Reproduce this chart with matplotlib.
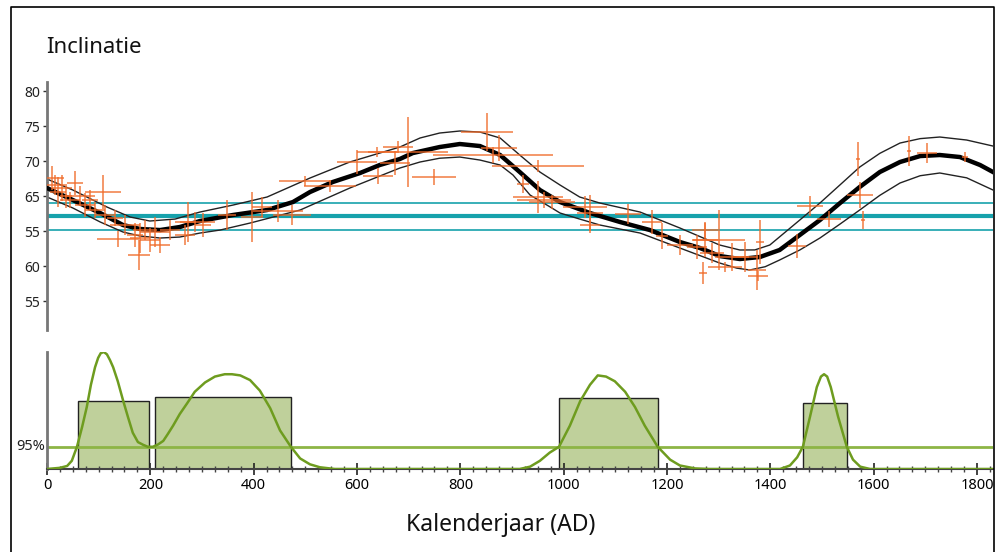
import numpy as np
import matplotlib.pyplot as plt
from matplotlib.lines import Line2D

plt.rcParams['font.family'] = ['Noto Sans', 'DejaVu Sans']

# ---- top panel: inclination curve (year, degrees) ----
curve_year = [0, 50, 103, 147, 180, 219, 257, 296, 360, 426, 476, 509, 553, 606, 644, 683,
              708, 760, 799, 838, 877, 915, 954, 993, 1051, 1109, 1167, 1225, 1264, 1302,
              1341, 1380, 1418, 1457, 1496, 1535, 1573, 1612, 1651, 1690, 1728, 1767, 1806, 1831]
curve_mid = [66.14, 64.43, 62.57, 60.86, 60.29, 60.14, 60.57, 61.43, 62.29, 63.0, 64.14, 65.57,
             67.0, 68.29, 69.43, 70.29, 71.14, 72.0, 72.43, 72.14, 70.86, 68.43, 65.86, 64.14,
             62.57, 61.29, 60.14, 58.43, 57.57, 56.43, 56.0, 56.29, 57.29, 59.43, 61.57, 64.0,
             66.29, 68.43, 69.86, 70.71, 70.86, 70.57, 69.43, 68.43]

upper_year = [0, 50, 116, 161, 199, 248, 296, 360, 426, 509, 586, 683, 722, 760, 799, 838, 877,
              915, 954, 993, 1031, 1070, 1148, 1225, 1302, 1341, 1370, 1399, 1457, 1496, 1535,
              1573, 1612, 1651, 1690, 1728, 1780, 1831]
upper_val = [67.43, 65.86, 63.43, 62.0, 61.43, 61.71, 62.71, 63.71, 64.86, 67.57, 69.86, 72.0,
             73.29, 74.0, 74.29, 74.14, 73.29, 70.86, 68.43, 66.57, 64.86, 64.0, 62.71, 60.43,
             58.0, 57.29, 57.3, 58.0, 61.57, 64.0, 66.6, 69.14, 71.1, 72.57, 73.2, 73.43, 73.0,
             72.14]

lower_year = [0, 50, 103, 147, 180, 219, 257, 296, 335, 393, 490, 586, 683, 722, 760, 799, 838,
              877, 902, 935, 974, 993, 1031, 1070, 1148, 1225, 1302, 1335, 1360, 1390, 1418, 1457,
              1496, 1535, 1573, 1612, 1651, 1690, 1728, 1780, 1831]
lower_val = [64.86, 63.29, 61.29, 59.86, 59.29, 59.0, 59.14, 59.71, 60.14, 61.14, 63.0, 66.14,
             69.0, 69.86, 70.4, 70.57, 70.14, 69.43, 68.0, 65.14, 63.43, 62.57, 61.71, 60.86,
             59.71, 57.57, 55.43, 54.7, 54.43, 54.9, 55.86, 57.29, 59.0, 61.0, 63.0, 65.1, 66.86,
             67.9, 68.29, 67.6, 65.86]

teal_mean = 62.14
teal_band = [64.0, 60.14]

# archaeomagnetic data points with uncertainties
pt_year = [10, 16, 21, 29, 37, 45, 54, 64, 74, 83, 93, 108, 112, 132, 151, 137, 170, 180, 190,
           178, 199, 209, 219, 238, 267, 273, 287, 302, 348, 397, 416, 447, 474, 499, 548, 600,
           641, 639, 674, 699, 749, 679, 852, 863, 875, 950, 921, 950, 962, 977, 1041, 1051,
           1051, 1125, 1171, 1190, 1225, 1258, 1274, 1274, 1270, 1287, 1301, 1312, 1326, 1351,
           1374, 1376, 1380, 1452, 1477, 1514, 1570, 1574, 1579, 1668, 1703, 1777]
pt_inc = [67.57, 66.57, 65.57, 66.14, 65.0, 64.43, 66.86, 65.0, 63.71, 64.43, 63.0, 65.57, 62.29,
          61.86, 60.86, 58.86, 59.43, 59.0, 60.14, 56.57, 58.71, 59.86, 58.0, 60.14, 59.43, 61.29,
          61.29, 60.86, 62.29, 62.0, 63.43, 62.86, 62.29, 67.14, 66.43, 69.86, 67.86, 71.29, 69.71,
          71.29, 67.71, 72.0, 74.14, 70.86, 71.86, 69.29, 66.71, 64.86, 64.43, 64.14, 63.43, 62.57,
          60.86, 62.43, 61.29, 59.29, 58.0, 57.71, 60.14, 58.71, 54.0, 56.86, 58.71, 54.86, 56.29,
          56.29, 54.43, 53.57, 58.43, 57.86, 63.57, 61.71, 70.29, 65.14, 61.57, 71.43, 71.14, 70.57]
pt_xerr = [23, 19, 15, 19, 12, 19, 15, 29, 19, 15, 19, 35, 19, 15, 29, 41, 15, 19, 23, 21, 19, 29,
           19, 19, 19, 15, 39, 15, 17, 21, 19, 48, 37, 50, 50, 39, 29, 39, 29, 77, 43, 29, 50, 116,
           35, 89, 12, 48, 52, 45, 43, 25, 19, 25, 19, 12, 25, 19, 25, 25, 8, 23, 50, 33, 33, 25,
           17, 19, 8, 17, 25, 23, 4, 25, 4, 4, 19, 6]
pt_yerr = [1.7, 1.4, 2.1, 1.9, 1.7, 1.1, 1.7, 1.4, 1.7, 1.4, 1.1, 2.4, 1.4, 1.1, 1.4, 1.1, 1.7, 2.1,
           1.4, 2.1, 1.7, 2.1, 1.1, 1.4, 1.4, 2.9, 1.4, 1.7, 2.1, 3.6, 1.4, 1.6, 1.4, 0.7, 0.9, 1.7,
           1.1, 0.7, 1.7, 5.0, 1.1, 0.9, 2.7, 1.1, 1.9, 0.9, 1.3, 2.3, 1.1, 1.0, 1.6, 2.6, 1.1, 1.4,
           1.7, 1.9, 1.4, 1.7, 1.1, 2.4, 1.6, 1.4, 4.3, 0.7, 2.0, 2.1, 2.9, 0.7, 3.1, 1.7, 1.4, 1.1,
           2.4, 1.9, 1.3, 2.1, 1.4, 0.7]

inc_ticks = [80, 75, 70, 65, 60, 55, 50]
inc_labels = ['80', '75', '70', '65', '55', '60', '55']

# ---- bottom panel: dating probability density ----
dens_year = [0, 25, 39, 48, 58, 68, 77, 85, 93, 99, 104, 110, 116, 122, 128, 137, 147, 157, 166,
             176, 186, 195, 205, 215, 225, 234, 244, 257, 271, 286, 306, 325, 344, 358, 374, 393,
             412, 432, 451, 472, 490, 509, 528, 557, 915, 935, 954, 973, 991, 1012, 1032, 1051,
             1066, 1082, 1099, 1119, 1138, 1157, 1182, 1206, 1225, 1254, 1283, 1419, 1438, 1452,
             1463, 1477, 1490, 1498, 1504, 1510, 1517, 1531, 1548, 1560, 1574, 1593, 1831]
dens_val = [0.0, 0.01, 0.026, 0.07, 0.19, 0.36, 0.53, 0.72, 0.87, 0.95, 0.99, 1.0, 0.98, 0.93,
            0.87, 0.75, 0.59, 0.44, 0.31, 0.23, 0.207, 0.19, 0.19, 0.21, 0.24, 0.30, 0.37, 0.47,
            0.56, 0.66, 0.74, 0.79, 0.81, 0.81, 0.80, 0.76, 0.67, 0.52, 0.33, 0.19, 0.09, 0.04,
            0.015, 0.0, 0.0, 0.02, 0.07, 0.14, 0.19, 0.37, 0.58, 0.72, 0.80, 0.79, 0.75, 0.66,
            0.53, 0.37, 0.19, 0.08, 0.03, 0.005, 0.0, 0.0, 0.03, 0.10, 0.19, 0.45, 0.70, 0.79,
            0.81, 0.79, 0.70, 0.45, 0.19, 0.08, 0.02, 0.0, 0.0]
level_95 = 0.19

bar_start = [60, 209, 991, 1463]
bar_end = [197, 472, 1182, 1548]
bar_height = [0.578, 0.612, 0.603, 0.56]

xmax = 1831
orange = '#f06a28'
teal = '#17a2ac'
olive = '#6e9c1f'

fig = plt.figure(figsize=(10.06, 5.52), dpi=100)
fig.add_artist(Line2D([11/1006, 11/1006, 994/1006, 994/1006], [0, 1-7/552, 1-7/552, 0],
                      color='black', lw=1.2))

ax1 = fig.add_axes([47/1006, 1-330/552, 946/1006, 248/552])
ax2 = fig.add_axes([47/1006, 1-469/552, 946/1006, 117/552])

# top
for v, w in [(teal_band[0], 1.2), (teal_mean, 3.0), (teal_band[1], 1.2)]:
    ax1.axhline(v, color=teal, lw=w, zorder=1)
ax1.plot(upper_year, upper_val, color='#222222', lw=1.0, zorder=2)
ax1.plot(lower_year, lower_val, color='#222222', lw=1.0, zorder=2)
ax1.plot(curve_year, curve_mid, color='black', lw=3.2, zorder=3, solid_joinstyle='round')
ax1.errorbar(pt_year, pt_inc, xerr=pt_xerr, yerr=pt_yerr, fmt='none', ecolor=orange,
             elinewidth=1.3, alpha=0.75, capsize=0, zorder=4)
ax1.set_xlim(0, xmax)
ax1.set_ylim(45.86, 81.29)
ax1.set_yticks(inc_ticks)
ax1.set_yticklabels(inc_labels)
for s in ['top', 'right', 'bottom']:
    ax1.spines[s].set_visible(False)
ax1.spines['left'].set_color('#777777')
ax1.spines['left'].set_linewidth(2)
ax1.tick_params(axis='y', direction='out', length=3, width=1, color='#333333',
                labelsize=10, pad=2, labelcolor='#222222')
ax1.tick_params(axis='x', bottom=False, labelbottom=False)
fig.text(46/1006, 1-48/552, 'Inclinatie', fontsize=16, va='center', ha='left', color='#111111')

# bottom
for s0, s1, h in zip(bar_start, bar_end, bar_height):
    ax2.bar(s0, h, width=s1-s0, align='edge', color='#bfd09b', edgecolor='#222222',
            linewidth=1.0, zorder=1)
ax2.axhline(level_95, color='#8db545', lw=2, zorder=2)
ax2.plot(dens_year, dens_val, color=olive, lw=1.8, zorder=3)
ax2.set_xlim(0, xmax)
ax2.set_ylim(0, 1.0)
ax2.set_yticks([])
ax2.text(-4, level_95, '95%', ha='right', va='center', fontsize=10.5, color='#222222')
for s in ['top', 'right']:
    ax2.spines[s].set_visible(False)
ax2.spines['left'].set_color('#777777')
ax2.spines['left'].set_linewidth(2)
ax2.spines['bottom'].set_color('#444444')
ax2.spines['bottom'].set_linewidth(1.5)
ax2.set_xticks(np.arange(0, 1801, 200))
ax2.set_xticks(np.arange(0, xmax, 25), minor=True)
ax2.tick_params(axis='x', which='major', direction='inout', length=9, width=1.2,
                color='#222222', labelsize=10.5, pad=2)
ax2.tick_params(axis='x', which='minor', direction='inout', length=5, width=1, color='#444444')
fig.text(501/1006, 1-525/552, 'Kalenderjaar (AD)', fontsize=16.5, ha='center', va='center',
         color='#111111')

fig.savefig('out.png', dpi=100)
